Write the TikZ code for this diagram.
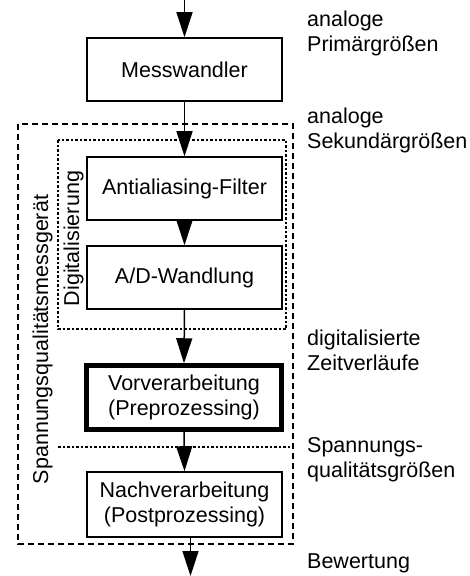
\documentclass[tikz,border=0pt]{standalone}
\usepackage{fontspec}
\setmainfont{Liberation Sans}
\usetikzlibrary{arrows.meta}
\begin{document}
\begin{tikzpicture}[x=1pt,y=-1pt,
  txt/.style={font=\fontsize{21.5pt}{25pt}\selectfont, inner sep=0pt},
  box/.style={txt, draw, line width=1.6pt, minimum width=195pt, minimum height=63pt, align=center},
  thickbox/.style={box, line width=4.5pt, minimum height=64pt},
  arr/.style={line width=1.5pt, -{Triangle[length=25pt,width=16pt]}},
  outerdash/.style={line width=2.8pt, dash pattern=on 6pt off 4pt},
  innerdot/.style={line width=1.3pt, dash pattern=on 2.5pt off 2pt},
  lbl/.style={txt, anchor=base west, align=left}]
\useasboundingbox (0,0) rectangle (470,576);
% frames
\coordinate (o1) at (18,124);
\coordinate (o2) at (293,544);
\coordinate (i1) at (58,140);
\coordinate (i2) at (286,329);
\coordinate (s1) at (58,447);
\coordinate (s2) at (293,447);
\draw[outerdash] (o1) rectangle (o2);
\draw[innerdot] (i1) rectangle (i2);
\draw[innerdot] (s1) -- (s2);
% boxes
\node[box] (mess) at (184.5,69.5) {Messwandler};
\node[box] (aa) at (184.5,188.5) {Antialiasing-Filter};
\node[box] (ad) at (184.5,277.5) {A/D-Wandlung};
\node[thickbox] (vor) at (184,397.5) {Vorverarbeitung\\(Preprozessing)};
\node[box, minimum height=65pt] (nach) at (184.5,504.5) {Nachverarbeitung\\(Postprozessing)};
% arrows
\coordinate (in) at (184.5,0);
\coordinate (out) at (190.5,576);
\draw[arr] (in) -- (mess.north);
\draw[arr] (mess.south) -- (aa.north);
\draw[arr] (aa.south) -- (ad.north);
\draw[arr] (ad.south) -- (vor.north);
\draw[arr] (vor.south) -- (nach.north);
\draw[arr] (nach.south -| out) -- (out);
% vertical labels
\node[txt, rotate=90, anchor=base] (sqm) at (48,339.5) {Spannungsqualitätsmessgerät};
\node[txt, rotate=90, anchor=base] (dig) at (79,238.5) {Digitalisierung};
% right labels (base = baseline of last line)
\node[lbl] (l1) at (307,51.7) {analoge\\Primärgrößen};
\node[lbl] (l2) at (307,148) {analoge\\Sekundärgrößen};
\node[lbl] (l3) at (307,370) {digitalisierte\\Zeitverläufe};
\node[lbl] (l4) at (307,477) {Spannungs-\\qualitätsgrößen};
\node[lbl] (l5) at (307,568) {Bewertung};
\end{tikzpicture}
\end{document}
